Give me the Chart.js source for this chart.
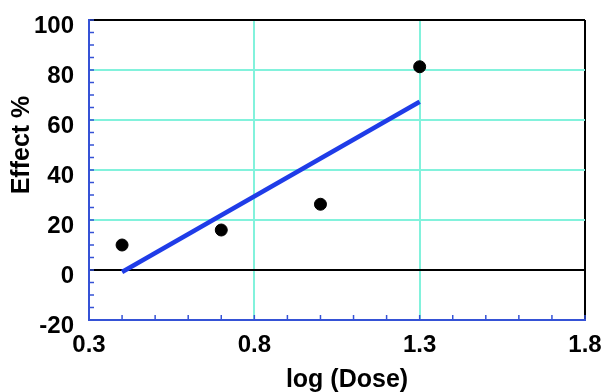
<!DOCTYPE html>
<html>
<head>
<meta charset="utf-8">
<script src="https://cdn.jsdelivr.net/npm/chart.js@4/dist/chart.umd.min.js"></script>
<style>
  html, body { margin: 0; padding: 0; background: #fff; }
  #wrap { width: 601px; height: 392px; }
</style>
</head>
<body>
<div id="wrap"><canvas id="chart"></canvas></div>
<script>
// data
const doses = [0.4, 0.7, 1.0, 1.3]
const effects = [10, 16, 26.3, 81.3]
const fitDoses = [0.4, 1.3]
const fitEffects = [-0.8, 67.3]
const xTicks = [0.3, 0.8, 1.3, 1.8]
const yTicks = [-20, 0, 20, 40, 60, 80, 100]
const xTitle = 'log (Dose)'
const yTitle = 'Effect %'

const cyan = '#82f2dc'
const axisBlue = '#3552d6'
const family = '"Liberation Sans", Arial, sans-serif'

// short inward minor ticks + axis titles
const extras = {
  id: 'extras',
  afterDraw(chart) {
    const { ctx, chartArea: a, scales: { x, y } } = chart
    ctx.save()
    ctx.strokeStyle = axisBlue
    ctx.lineWidth = 1.5
    for (let i = 0; i <= 15; i++) {
      const px = x.getPixelForValue(x.min + i * 0.1)
      ctx.beginPath(); ctx.moveTo(px, a.bottom); ctx.lineTo(px, a.bottom - 5); ctx.stroke()
    }
    for (let i = 0; i <= 24; i++) {
      const py = y.getPixelForValue(y.min + i * 5)
      ctx.beginPath(); ctx.moveTo(a.left, py); ctx.lineTo(a.left + 5, py); ctx.stroke()
    }
    ctx.fillStyle = '#000'
    ctx.font = 'bold 25px ' + family
    ctx.textAlign = 'center'
    ctx.textBaseline = 'middle'
    ctx.fillText(xTitle, 347, 380)
    ctx.translate(22, 145)
    ctx.rotate(-Math.PI / 2)
    ctx.fillText(yTitle, 0, 0)
    ctx.restore()
  }
}

new Chart(document.getElementById('chart'), {
  data: {
    datasets: [{
      type: 'line',
      data: fitDoses.map((d, i) => ({ x: d, y: fitEffects[i] })),
      borderColor: '#1f3ce8',
      borderWidth: 4.5,
      pointRadius: 0,
      fill: false
    }, {
      type: 'scatter',
      data: doses.map((d, i) => ({ x: d, y: effects[i] })),
      backgroundColor: '#000',
      borderColor: '#000',
      pointRadius: 6
    }]
  },
  options: {
    responsive: true,
    maintainAspectRatio: false,
    animation: false,
    layout: { padding: { top: 20, right: 16, left: 0, bottom: 0 } },
    plugins: { legend: { display: false }, tooltip: { enabled: false } },
    scales: {
      x: {
        type: 'linear',
        min: 0.3,
        max: 1.8,
        afterBuildTicks: s => { s.ticks = xTicks.map(v => ({ value: v })) },
        afterFit: s => { s.height = 72; s.paddingLeft = 0; s.paddingRight = 0 },
        border: { color: axisBlue, width: 2 },
        grid: {
          drawTicks: false,
          lineWidth: 2,
          color: c => c.tick.value === 1.8 ? '#000' : (c.tick.value === 0.3 ? 'rgba(0,0,0,0)' : cyan)
        },
        ticks: {
          color: '#000',
          font: { family: family, size: 24, weight: 'bold' },
          padding: 11,
          maxRotation: 0,
          autoSkip: false,
          callback: v => v.toFixed(1)
        }
      },
      y: {
        type: 'linear',
        min: -20,
        max: 100,
        afterBuildTicks: s => { s.ticks = yTicks.map(v => ({ value: v })) },
        afterFit: s => { s.width = 89; s.paddingTop = 0; s.paddingBottom = 0 },
        border: { color: axisBlue, width: 2 },
        grid: {
          drawTicks: false,
          lineWidth: 2,
          color: c => (c.tick.value === 0 || c.tick.value === 100) ? '#000' : (c.tick.value === -20 ? 'rgba(0,0,0,0)' : cyan)
        },
        ticks: {
          color: '#000',
          font: { family: family, size: 24, weight: 'bold' },
          padding: 15,
          labelOffset: 6,
          autoSkip: false
        }
      }
    }
  },
  plugins: [extras]
})
</script>
</body>
</html>
